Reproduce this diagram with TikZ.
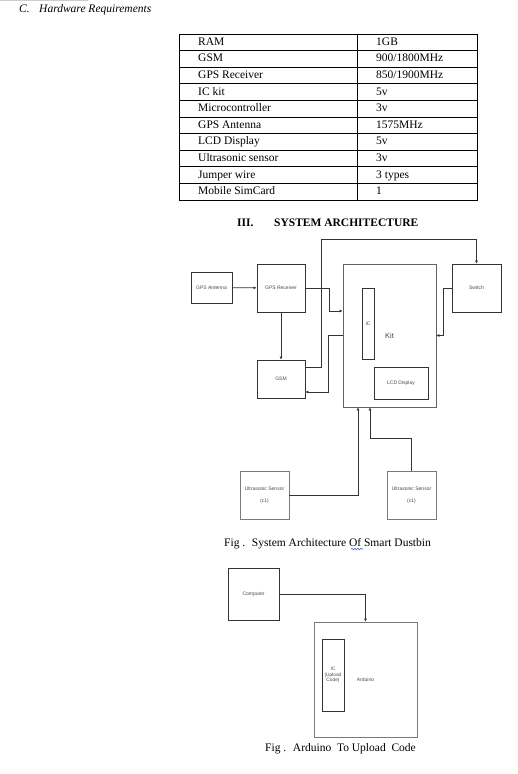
\documentclass[tikz,border=0pt]{standalone}
\usepackage{fontspec}
\setmainfont{Liberation Serif}
\setsansfont{Liberation Sans}
\usepackage{xcolor}
\usetikzlibrary{arrows.meta,decorations.pathmorphing}
\definecolor{arqlinha}{HTML}{333333}
\definecolor{arqcinza}{HTML}{7A7A7A}
\definecolor{arqtexto}{HTML}{4A4A4A}
\definecolor{arqazul}{HTML}{3A5FD0}

\begin{document}
\begin{tikzpicture}[
  x=1pt, y=-1pt,
  every node/.style={inner sep=0pt},
  tabela/.style={font=\fontsize{11.5}{13}\selectfont, anchor=base west},
  bloco/.style={rectangle, draw=arqlinha, line width=0.8pt, font=\sffamily\fontsize{5}{6}\selectfont, text=arqtexto, align=center},
  sensor/.style={bloco, draw=arqcinza, minimum width=49pt, minimum height=48pt, font=\sffamily\fontsize{5}{12}\selectfont},
  seta/.style={-{Latex[length=3pt,width=3pt]}, line width=0.8pt, draw=arqlinha},
  fio/.style={line width=0.8pt, draw=arqlinha},
  legenda/.style={font=\fontsize{11.5}{13}\selectfont, anchor=base west}
]
  \fill[white] (0,0) rectangle (517,774);
  \useasboundingbox (0,0) rectangle (517,774);
  \draw[black!20, line width=1pt] (0,0.5) -- (88,0.5);

  \node[legenda] (secao) at (19,12.5) {\itshape C.};
  \node[legenda] (secaotit) at (39,12.5) {\itshape Hardware Requirements};

  \draw[line width=0.8pt] (179,34) rectangle (477,200);
  \draw[line width=0.8pt] (357,34) -- (357,200);
  \foreach \i in {1,...,9}
    \draw[line width=0.8pt] (179,{34+16.6*\i}) -- (477,{34+16.6*\i});
  \foreach \nome/\valor [count=\i] in {RAM/1GB, GSM/{900/1800MHz}, GPS Receiver/{850/1900MHz}, IC kit/5v, Microcontroller/3v, GPS Antenna/1575MHz, LCD Display/5v, Ultrasonic sensor/3v, Jumper wire/3 types, Mobile SimCard/1} {
    \node[tabela] (nome\i) at (198,{34+16.6*(\i-1)+11.3}) {\nome};
    \node[tabela] (valor\i) at (376,{34+16.6*(\i-1)+11.3}) {\valor};
  }

  \node[legenda] (titnum) at (237,226.5) {\bfseries III.};
  \node[legenda] (tit) at (274,226.5) {\bfseries SYSTEM ARCHITECTURE};

  \node[bloco, minimum width=41pt, minimum height=31pt] (antena) at (211.5,287.5) {GPS Antenna};
  \node[bloco, minimum width=48pt, minimum height=48pt] (receptor) at (281,288) {GPS Receiver};
  \node[bloco, minimum width=48pt, minimum height=38pt] (gsm) at (281,379) {GSM};
  \node[bloco, draw=arqcinza!80!black, minimum width=93pt, minimum height=143pt, font=\sffamily\fontsize{7.5}{9}\selectfont] (kit) at (389.5,335.5) {Kit};
  \node[bloco, minimum width=12pt, minimum height=71pt] (ic) at (368,323.5) {IC};
  \node[bloco, minimum width=54pt, minimum height=32pt] (lcd) at (401,383) {LCD Display};
  \node[bloco, minimum width=49pt, minimum height=48pt] (chave) at (476.5,288) {Switch};
  \node[sensor] (sensorA) at (264.5,495) {Ultrasonic Sensor\\(c1)};
  \node[sensor] (sensorB) at (411.5,495) {Ultrasonic Sensor\\(c1)};

  \draw[seta] (antena) -- (receptor);
  \draw[seta] (receptor.east) -- ++(24,0) |- ([yshift=24.5pt]kit.west);
  \draw[seta] (receptor) -- (gsm);
  \draw[seta] (kit.west) -- ++(-14,0) |- ([yshift=-13pt]gsm.east);
  \draw[fio] ([yshift=12pt]gsm.east) -- ++(16,0) |- ([yshift=24pt]chave.north);
  \draw[seta] ([yshift=24pt]chave.north) -- (chave.north);
  \draw[seta] (chave.west) -- ++(-8,0) |- (kit.east);
  \draw[seta] (sensorA.east) -| ([xshift=-31.5pt]kit.south);
  \draw[seta] (sensorB.north) -- ++(0,-32) -| ([xshift=-19.5pt]kit.south);

  \node[legenda] (figarq) at (224,546.5) {Fig .~ System Architecture Of Smart Dustbin};
  \draw[arqazul, line width=0.6pt, decorate, decoration={snake, amplitude=0.7pt, segment length=3pt}] (351,549) -- (363,549);

  \node[bloco, minimum width=51pt, minimum height=52pt] (computador) at (253.5,594) {Computer};
  \node[bloco, draw=arqcinza, minimum width=103pt, minimum height=115pt] (arduino) at (365.5,679.5) {Arduino};
  \node[bloco, minimum width=22pt, minimum height=72pt, font=\sffamily\fontsize{4.8}{5.2}\selectfont] (icupload) at (333,675) {IC\\(Upload\\Code)};

  \draw[seta] (computador.east) -| (arduino.north);

  \node[legenda] (figard) at (265,751) {Fig .~ Arduino~ To Upload~ Code};
\end{tikzpicture}
\end{document}
